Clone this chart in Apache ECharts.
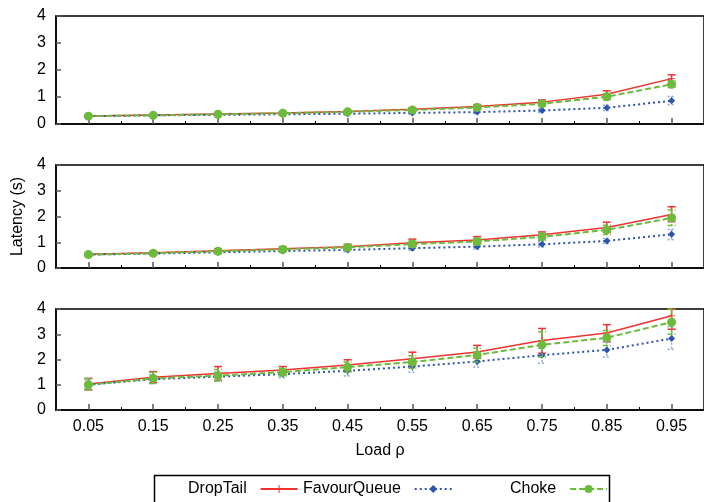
<!DOCTYPE html>
<html>
<head>
<meta charset="utf-8">
<script src="https://cdn.jsdelivr.net/npm/echarts@6/dist/echarts.min.js"></script>
<style>html,body{margin:0;padding:0;background:#fff;}#c{width:704px;height:502px;}</style>
</head>
<body>
<div id="c"></div>
<script>
// ---- data ----
const loads = [0.05, 0.15, 0.25, 0.35, 0.45, 0.55, 0.65, 0.75, 0.85, 0.95];
const majorTicks = [0.05, 0.15, 0.25, 0.35, 0.45, 0.55, 0.65, 0.75, 0.85, 0.95];
const minorTicks = [0.1, 0.2, 0.3, 0.4, 0.5, 0.6, 0.7, 0.8, 0.9];
const seriesNames = ['DropTail', 'FavourQueue', 'Choke'];

// Panel 1
const p1DropTail    = [0.30, 0.33, 0.37, 0.41, 0.46, 0.55, 0.65, 0.81, 1.10, 1.68];
const p1DropTailLo  = [0.27, 0.30, 0.34, 0.38, 0.42, 0.50, 0.58, 0.74, 0.98, 1.50];
const p1DropTailHi  = [0.33, 0.36, 0.40, 0.45, 0.50, 0.60, 0.72, 0.89, 1.23, 1.82];
const p1Favour      = [0.29, 0.32, 0.34, 0.36, 0.38, 0.41, 0.44, 0.50, 0.60, 0.86];
const p1FavourLo    = [0.26, 0.29, 0.31, 0.33, 0.34, 0.36, 0.38, 0.43, 0.50, 0.72];
const p1FavourHi    = [0.32, 0.35, 0.37, 0.40, 0.42, 0.46, 0.50, 0.57, 0.70, 1.02];
const p1Choke       = [0.29, 0.32, 0.36, 0.40, 0.45, 0.52, 0.61, 0.75, 1.01, 1.47];
const p1ChokeLo     = [0.26, 0.29, 0.33, 0.37, 0.41, 0.48, 0.56, 0.68, 0.90, 1.35];
const p1ChokeHi     = [0.32, 0.35, 0.39, 0.43, 0.49, 0.56, 0.66, 0.82, 1.12, 1.60];

// Panel 2
const p2DropTail    = [0.53, 0.59, 0.67, 0.75, 0.83, 0.98, 1.09, 1.29, 1.57, 2.08];
const p2DropTailLo  = [0.48, 0.53, 0.60, 0.67, 0.74, 0.85, 0.95, 1.18, 1.38, 1.80];
const p2DropTailHi  = [0.58, 0.65, 0.74, 0.83, 0.92, 1.12, 1.22, 1.40, 1.78, 2.38];
const p2Favour      = [0.52, 0.56, 0.61, 0.66, 0.70, 0.77, 0.83, 0.92, 1.05, 1.31];
const p2FavourLo    = [0.47, 0.51, 0.55, 0.60, 0.63, 0.69, 0.74, 0.82, 0.95, 1.10];
const p2FavourHi    = [0.57, 0.61, 0.67, 0.72, 0.77, 0.85, 0.92, 1.02, 1.15, 1.50];
const p2Choke       = [0.52, 0.57, 0.65, 0.72, 0.80, 0.93, 1.03, 1.21, 1.48, 1.94];
const p2ChokeLo     = [0.47, 0.52, 0.58, 0.65, 0.71, 0.82, 0.90, 1.08, 1.30, 1.65];
const p2ChokeHi     = [0.57, 0.62, 0.72, 0.79, 0.89, 1.05, 1.16, 1.34, 1.66, 2.25];

// Panel 3
const p3DropTail    = [1.03, 1.30, 1.45, 1.58, 1.78, 2.03, 2.30, 2.75, 3.05, 3.73];
const p3DropTailLo  = [0.80, 1.08, 1.18, 1.42, 1.55, 1.78, 2.05, 2.25, 2.70, 3.20];
const p3DropTailHi  = [1.25, 1.52, 1.72, 1.72, 1.99, 2.29, 2.56, 3.23, 3.38, 4.00];
const p3Favour      = [1.00, 1.22, 1.32, 1.42, 1.55, 1.72, 1.92, 2.17, 2.38, 2.83];
const p3FavourLo    = [0.85, 1.05, 1.15, 1.28, 1.35, 1.50, 1.70, 1.85, 2.10, 2.40];
const p3FavourHi    = [1.20, 1.40, 1.50, 1.55, 1.75, 1.95, 2.15, 2.45, 2.70, 3.30];
const p3Choke       = [1.00, 1.25, 1.36, 1.50, 1.70, 1.90, 2.18, 2.58, 2.86, 3.48];
const p3ChokeLo     = [0.80, 1.05, 1.15, 1.35, 1.50, 1.65, 1.90, 2.10, 2.55, 3.00];
const p3ChokeHi     = [1.25, 1.50, 1.60, 1.65, 1.90, 2.15, 2.45, 3.10, 3.15, 4.00];

const panels = [
  { d: [p1DropTail, p1Favour, p1Choke], lo: [p1DropTailLo, p1FavourLo, p1ChokeLo], hi: [p1DropTailHi, p1FavourHi, p1ChokeHi] },
  { d: [p2DropTail, p2Favour, p2Choke], lo: [p2DropTailLo, p2FavourLo, p2ChokeLo], hi: [p2DropTailHi, p2FavourHi, p2ChokeHi] },
  { d: [p3DropTail, p3Favour, p3Choke], lo: [p3DropTailLo, p3FavourLo, p3ChokeLo], hi: [p3DropTailHi, p3FavourHi, p3ChokeHi] }
];

// ---- styles ----
const FONT = 'Liberation Sans, Arial, sans-serif';
const styles = [
  { line: '#f03232', err: '#f03232', type: 'solid', dash: null, w: 1.5, ew: 1.5,
    symbol: 'path://M-0.12,-1H0.12V-0.12H1V0.12H0.12V1H-0.12V0.12H-1V-0.12H-0.12Z', size: 7 },
  { line: '#2c54b0', err: '#8ea6da', type: [2, 3], dash: [2, 2], w: 2, ew: 1.5,
    symbol: 'diamond', size: 7 },
  { line: '#6cbb3c', err: '#6cbb3c', type: [6, 3], dash: [5, 2], w: 2, ew: 1.5,
    symbol: 'circle', size: 9 }
];

const gridDefs = [
  { top: 16, height: 108 },
  { top: 165, height: 103 },
  { top: 309, height: 101 }
];

function errRender(st) {
  return function (params, api) {
    const x = api.value(0), lo = api.value(1), hi = api.value(2);
    const a = api.coord([x, hi]), b = api.coord([x, lo]);
    const hw = 4;
    const style = { stroke: st.err, lineWidth: st.ew, lineDash: st.dash, fill: null };
    return {
      type: 'group',
      children: [
        { type: 'line', shape: { x1: a[0], y1: a[1], x2: b[0], y2: b[1] }, style: style },
        { type: 'line', shape: { x1: a[0] - hw, y1: a[1], x2: a[0] + hw, y2: a[1] }, style: style },
        { type: 'line', shape: { x1: b[0] - hw, y1: b[1], x2: b[0] + hw, y2: b[1] }, style: style }
      ]
    };
  };
}

const grid = [], xAxis = [], yAxis = [], series = [];
gridDefs.forEach(function (g, gi) {
  grid.push({ left: 56, right: -6, top: g.top, height: g.height, show: true,
    borderColor: '#000', borderWidth: 1.5, backgroundColor: 'transparent' });
  xAxis.push({
    type: 'value', gridIndex: gi, min: 0, max: 1, position: 'bottom',
    axisLine: { show: true, onZero: false, lineStyle: { color: '#000', width: 1.5 } },
    axisTick: { show: true, inside: true, length: 6, customValues: majorTicks, lineStyle: { color: '#555', width: 1.5 } },
    axisLabel: { show: gi === 2, customValues: majorTicks, margin: 9, color: '#000', fontSize: 16, fontFamily: FONT,
      formatter: function (v) { return v.toFixed(2); } },
    splitLine: { show: false },
    name: gi === 2 ? 'Load ρ' : '', nameLocation: 'middle', nameGap: 33,
    nameTextStyle: { color: '#000', fontSize: 16, fontFamily: FONT }
  });
  xAxis.push({
    type: 'value', gridIndex: gi, min: 0, max: 1, position: 'bottom',
    axisLine: { show: false },
    axisTick: { show: true, inside: true, length: 3, customValues: minorTicks, lineStyle: { color: '#000', width: 1 } },
    axisLabel: { show: false },
    splitLine: { show: false }
  });
  yAxis.push({
    type: 'value', gridIndex: gi, min: 0, max: 4, interval: 1,
    axisLine: { show: true, lineStyle: { color: '#000', width: 1.5 } },
    axisTick: { show: true, inside: true, length: 5, lineStyle: { color: '#555', width: 1.5 } },
    axisLabel: { margin: 10, color: '#000', fontSize: 16, fontFamily: FONT },
    splitLine: { show: false },
    name: gi === 1 ? 'Latency (s)' : '', nameLocation: 'middle', nameGap: 30,
    nameTextStyle: { color: '#000', fontSize: 16, fontFamily: FONT }
  });

  const p = panels[gi];
  seriesNames.forEach(function (name, si) {
    const st = styles[si];
    series.push({
      type: 'custom', name: name + ' err', xAxisIndex: gi * 2, yAxisIndex: gi,
      renderItem: errRender(st), encode: { x: 0, y: [1, 2] }, silent: true,
      data: loads.map(function (x, i) { return [x, p.lo[si][i], p.hi[si][i]]; }),
      z: 2 + si
    });
    series.push({
      type: 'line', name: name, xAxisIndex: gi * 2, yAxisIndex: gi,
      data: loads.map(function (x, i) { return [x, p.d[si][i]]; }),
      symbol: st.symbol, symbolSize: st.size, showAllSymbol: true,
      lineStyle: { color: st.line, width: st.w, type: st.type },
      itemStyle: { color: st.line },
      animation: false, silent: true, z: 2 + si
    });
  });
});

const legendLefts = [188, 303, 510];
const legends = seriesNames.map(function (n, i) {
  return {
    data: [n], left: legendLefts[i], top: 481, align: 'right', padding: 0,
    itemWidth: 37, itemHeight: 10, itemGap: 0, selectedMode: false,
    formatter: function (name) { return name + '  '; },
    textStyle: { color: '#000', fontSize: 16, fontFamily: FONT }
  };
});

const chart = echarts.init(document.getElementById('c'), null, { renderer: 'canvas' });
chart.setOption({
  animation: false,
  backgroundColor: '#fff',
  grid: grid, xAxis: xAxis, yAxis: yAxis, series: series,
  legend: legends,
  graphic: [{
    type: 'rect', left: 152, top: 473, silent: true,
    shape: { width: 455, height: 40 },
    style: { fill: null, stroke: '#000', lineWidth: 1.5 }
  }]
});
</script>
</body>
</html>
